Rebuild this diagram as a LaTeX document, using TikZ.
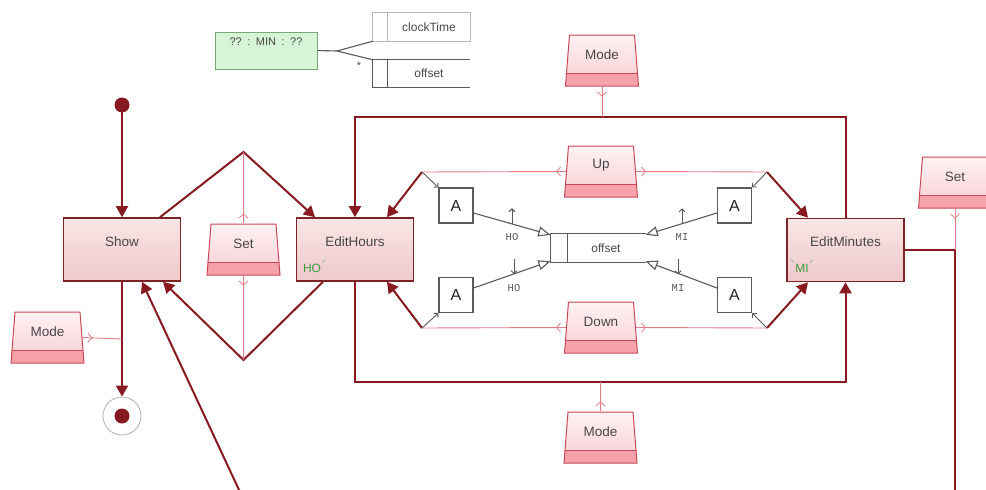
\documentclass[tikz,border=0pt]{standalone}
\usepackage{fontspec}
\setmainfont{Liberation Sans}
\newfontfamily\monofont{Liberation Mono}
\usetikzlibrary{arrows.meta,shapes.geometric,decorations.markings}

\definecolor{transc}{HTML}{861A20}
\definecolor{sigc}{HTML}{E47C88}
\definecolor{keyline}{HTML}{C8485A}
\definecolor{keyA}{HTML}{FFF2F3}
\definecolor{keyB}{HTML}{F7CDD2}
\definecolor{keyband}{HTML}{F6A2AB}
\definecolor{stateline}{HTML}{7A2428}
\definecolor{stateA}{HTML}{F9E6E6}
\definecolor{stateB}{HTML}{EFC8CA}
\definecolor{txtc}{HTML}{484848}
\definecolor{grayc}{HTML}{5A5A5A}
\definecolor{ghost}{HTML}{B8B8B8}
\definecolor{greenfill}{HTML}{D6F4D6}
\definecolor{greenline}{HTML}{78A878}
\definecolor{greentxt}{HTML}{3C9A3C}

\tikzset{
  trans/.style={draw=transc, line width=2pt, line join=miter},
  tarrow/.style={trans, -{Triangle[length=11pt,width=12pt]}},
  sigline/.style={draw=sigc, line width=0.9pt, postaction={decorate},
    decoration={markings, mark=at position 10pt with
      {\arrow[sigc, line width=0.8pt]{Straight Barb[length=4pt,width=9pt]}}}},
  grayline/.style={draw=grayc, line width=1.1pt},
  statebox/.style={draw=stateline, line width=1.6pt, minimum width=117pt,
    minimum height=63pt, inner sep=0pt, top color=stateA, bottom color=stateB},
  stext/.style={anchor=center, yshift=-24pt, font=\fontsize{13.5}{16}\selectfont, text=txtc},
  keycap/.style={trapezium, trapezium left angle=83, trapezium right angle=83,
    trapezium stretches=true, minimum width=73pt, minimum height=51pt,
    inner xsep=6pt, inner ysep=3pt, draw=keyline, line width=1pt, top color=keyA, bottom color=keyB,
    path picture={
      \fill[keyband] (path picture bounding box.south west) rectangle
        ([yshift=13pt]path picture bounding box.south east);
      \draw[keyline, line width=0.9pt] ([yshift=13pt]path picture bounding box.south west)
        -- ([yshift=13pt]path picture bounding box.south east);}},
  ktext/.style={anchor=center, yshift=-20pt, font=\fontsize{13.5}{16}\selectfont, text=txtc},
  abox/.style={draw=grayc, line width=1.1pt, fill=white, minimum width=34pt,
    minimum height=35pt, inner sep=0pt, font=\fontsize{16}{18}\selectfont, text=black!85},
  idx/.style={font=\monofont\fontsize{10.5}{12}\selectfont, text=grayc, inner sep=0pt},
  openhead/.style={grayline, -{Triangle[open, fill=white, length=12pt, width=10pt]}},
  smallhead/.style={grayline, line width=0.9pt, -{Straight Barb[length=3pt,width=6pt]}},
  glabel/.style={font=\fontsize{12}{14}\selectfont, text=greentxt, inner sep=0pt},
  gtick/.style={draw=greentxt!70, line width=0.6pt},
}

\begin{document}
\begin{tikzpicture}[x=1pt,y=-1pt]
\useasboundingbox (0,0) rectangle (986,490);
\fill[white] (0,0) rectangle (986,490);

% ---------- record binding in the top left ----------
\node[draw=greenline, fill=greenfill, line width=1pt, minimum width=102pt,
      minimum height=37pt, inner sep=0pt,
      label={[anchor=center, yshift=-10pt, font=\fontsize{11}{13}\selectfont, text=txtc]north:{??\enspace:\enspace MIN\enspace:\enspace??}}]
      (cfg) at (266,50.5) {};
\coordinate (fork) at (337,51);
\node[minimum width=97pt, minimum height=28pt, inner sep=0pt] (clk) at (421.5,27) {};
\node[minimum width=97pt, minimum height=27pt, inner sep=0pt] (offrow) at (421.5,73.5) {};
\draw[ghost, line width=0.9pt] (clk.north west) -- (clk.north east) -- (clk.south east) -- (clk.south west) -- cycle;
\draw[ghost, line width=0.9pt] ([xshift=15pt]clk.north west) -- ([xshift=15pt]clk.south west);
\node[font=\fontsize{12}{14}\selectfont, text=txtc] (clktxt) at (429,27) {clockTime};
\draw[grayline] (offrow.north east) -- (offrow.north west) -- (offrow.south west) -- (offrow.south east);
\draw[grayline] ([xshift=15pt]offrow.north west) -- ([xshift=15pt]offrow.south west);
\node[font=\fontsize{12}{14}\selectfont, text=txtc] (offtxt2) at (429,73.5) {offset};
\draw[grayline] (cfg.east) -- (fork) -- (clk.south west);
\draw[grayline] (fork) -- (offrow.north west);
\node[font=\fontsize{11}{12}\selectfont, text=txtc, inner sep=0pt] (star) at (359,66) {*};

% ---------- states ----------
\fill[transc] (122,105) circle (7.5) coordinate (init);
\node[statebox, label={[stext]north:Show}] (show) at (122,249.5) {};
\node[statebox, label={[stext]north:EditHours}] (edH) at (355,249.5) {};
\node[statebox, label={[stext]north:EditMinutes}] (edM) at (845.5,250) {};
\node[circle, draw=gray!60, line width=0.8pt, minimum size=38pt, inner sep=0pt] (final) at (122,416) {};
\fill[transc] (final.center) circle (7.5);

\node[glabel] (hoL) at (312,268) {HO};
\draw[gtick] ([xshift=1pt,yshift=1pt]hoL.north east) -- ++(3,-3);
\node[glabel] (miL) at (802,268) {MI};
\draw[gtick] ([xshift=-1pt,yshift=1pt]miL.north west) -- ++(-3,-3);
\draw[gtick] ([xshift=1pt,yshift=1pt]miL.north east) -- ++(3,-3);

% ---------- trigger keys ----------
\node[keycap, label={[ktext]north:Set}] (setM) at (243.5,249.5) {};
\node[keycap, label={[ktext]north:Up}] (up) at (601,171.5) {};
\node[keycap, label={[ktext]north:Down}] (down) at (601,327.5) {};
\node[keycap, label={[ktext]north:Mode}] (modeT) at (602,60.5) {};
\node[keycap, label={[ktext]north:Mode}] (modeB) at (600.5,437.5) {};
\node[keycap, label={[ktext]north:Mode}] (modeL) at (47.5,337.5) {};
\node[keycap, label={[ktext]north:Set}] (setR) at (955,182.5) {};

% ---------- junction points ----------
\coordinate (apexT) at (243.5,152);
\coordinate (apexB) at (243.5,360);
\coordinate (jModeL) at (122,339);
\coordinate (offB) at (240,492);
\coordinate (fTL) at (355,117);
\coordinate (fTR) at (845.5,117);
\coordinate (jModeT) at (602,117);
\coordinate (fBL) at (355,382);
\coordinate (fBR) at (845.5,382);
\coordinate (jModeB) at (600.5,382);
\coordinate (jUL) at (422,172);
\coordinate (jUR) at (767,172);
\coordinate (jLL) at (422,328);
\coordinate (jLR) at (767,328);
\coordinate (jSet) at (955,250);
\coordinate (offR) at (955,492);

% ---------- transitions ----------
\draw[tarrow] (init) -- (show.north);
\draw[tarrow] ([xshift=38pt]show.north) -- (apexT) -- ([xshift=-40pt]edH.north);
\draw[tarrow] ([xshift=-32pt]edH.south) -- (apexB) -- ([xshift=41pt]show.south);
\draw[tarrow] (show.south) -- (final.north);
\draw[tarrow] (offB) -- ([xshift=20pt]show.south);
\draw[tarrow] (edM.north) -- (fTR) -- (fTL) -- (edH.north);
\draw[tarrow] (edH.south) -- (fBL) -- (fBR) -- (edM.south);
\draw[tarrow] (jUL) -- ([xshift=32pt]edH.north);
\draw[tarrow] (jLL) -- ([xshift=32pt]edH.south);
\draw[tarrow] (jUR) -- ([xshift=-37.5pt]edM.north);
\draw[tarrow] (jLR) -- ([xshift=-37.5pt]edM.south);
\draw[trans] (edM.east) -- (jSet) -- (offR);

% ---------- trigger lines ----------
\draw[sigline] (setM.north) -- (apexT);
\draw[sigline] (setM.south) -- (apexB);
\draw[sigline] (modeL.east) -- (jModeL);
\draw[sigline] (modeT.south) -- (jModeT);
\draw[sigline] (modeB.north) -- (jModeB);
\draw[sigline] (up.west) -- (jUL);
\draw[sigline] (up.east) -- (jUR);
\draw[sigline] (down.west) -- (jLL);
\draw[sigline] (down.east) -- (jLR);
\draw[sigline] (setR.south) -- (jSet);

% ---------- actions on the offset field ----------
\node[abox] (aUL) at (456,205.5) {A};
\node[abox] (aLL) at (456,295) {A};
\node[abox] (aUR) at (734.5,205.5) {A};
\node[abox] (aLR) at (734.5,295) {A};

\draw[smallhead] (jUL) -- (aUL.north west);
\draw[smallhead] (jLL) -- (aLL.south west);
\draw[smallhead] (jUR) -- (aUR.north east);
\draw[smallhead] (jLR) -- (aLR.south east);

\node[minimum width=95pt, minimum height=28pt, inner sep=0pt] (off) at (598,248) {};
\draw[grayline] (off.north east) -- (off.north west) -- (off.south west) -- (off.south east);
\draw[grayline] ([xshift=17pt]off.north west) -- ([xshift=17pt]off.south west);
\node[font=\fontsize{12}{14}\selectfont, text=txtc] (offtxt) at (606,248) {offset};

\draw[openhead] ([yshift=-7.5pt]aUL.east) -- ([yshift=-1pt]off.north west);
\draw[openhead] ([yshift=7pt]aLL.east) -- ([yshift=1pt]off.south west);
\draw[openhead] ([yshift=-7.5pt]aUR.west) -- ([yshift=-1pt]off.north east);
\draw[openhead] ([yshift=7pt]aLR.west) -- ([yshift=1pt]off.south east);

% hour / minute index marks
\node[idx] (i1) at (512,237) {HO};
\node[idx] (i2) at (514,288) {HO};
\node[idx] (i3) at (682,237) {MI};
\node[idx] (i4) at (678,288) {MI};
\draw[smallhead] ([yshift=9pt]i1.north) -- ++(0,-16);
\draw[smallhead] ([yshift=25pt]i2.north) -- ++(0,15);
\draw[smallhead] ([yshift=9pt]i3.north) -- ++(0,-16);
\draw[smallhead] ([yshift=25pt]i4.north) -- ++(0,15);
\end{tikzpicture}
\end{document}
